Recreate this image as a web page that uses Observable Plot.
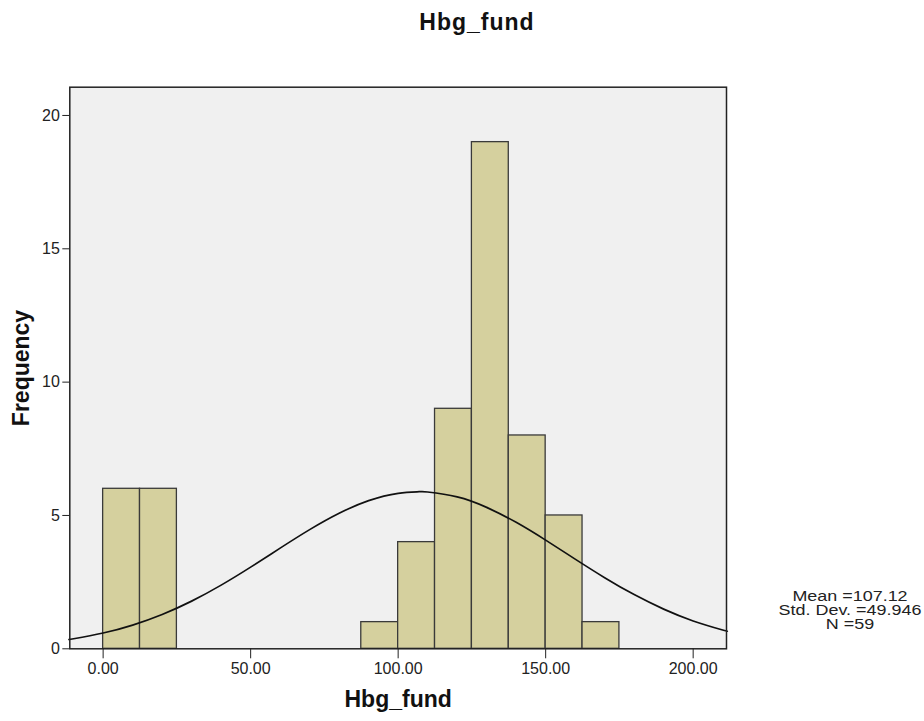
<!DOCTYPE html>
<html>
<head>
<meta charset="utf-8">
<script src="https://cdn.jsdelivr.net/npm/d3@7"></script>
<script src="https://cdn.jsdelivr.net/npm/@observablehq/plot@0.6"></script>
<style>
  html, body { margin: 0; padding: 0; background: #fff; }
  #wrap { position: relative; width: 924px; height: 721px; font-family: "Liberation Sans", Arial, sans-serif; }
  #title { position: absolute; left: 0; width: 954px; top: 11px; text-align: center; font-weight: bold; font-size: 23px; line-height: 23px; color: #111; letter-spacing: 1px; }
  #stats { position: absolute; left: 770px; width: 160px; top: 590px; text-align: center; font-size: 13.8px; line-height: 14px; color: #222; transform: scaleX(1.3); transform-origin: 80px 0; }
  #stats div { height: 14px; }
  #chart svg { position: absolute; left: 0; top: 0; }
  #chart svg g[aria-label="x-axis label"] text,
  #chart svg g[aria-label="y-axis label"] text { font-weight: bold; font-size: 23px; fill: #111; }
  #chart svg g[aria-label="x-axis tick label"] text,
  #chart svg g[aria-label="y-axis tick label"] text { font-size: 16px; fill: #222; }
</style>
</head>
<body>
<div id="wrap">
  <div id="chart"></div>
  <div id="title">Hbg_fund</div>
  <div id="stats"><div>Mean =107.12</div><div>Std. Dev. =49.946</div><div>N =59</div></div>
</div>
<script>
// Histogram bins (lower and upper edges) and their frequencies
const binLo = [0, 12.5, 87.5, 100, 112.5, 125, 137.5, 150, 162.5];
const binHi = [12.5, 25, 100, 112.5, 125, 137.5, 150, 162.5, 175];
const counts = [6, 6, 1, 4, 9, 19, 8, 5, 1];

// Fitted normal curve
const curveX = [-11.3, -10, 0, 10, 20, 30, 40, 50, 60, 70, 80, 90, 100, 107.12, 110, 120, 130, 140, 150, 160, 170, 180, 190, 200, 210, 211.3];
const curveY = [0.354, 0.377, 0.591, 0.889, 1.287, 1.788, 2.388, 3.063, 3.775, 4.469, 5.083, 5.555, 5.831, 5.891, 5.881, 5.698, 5.304, 4.743, 4.075, 3.363, 2.667, 2.032, 1.487, 1.045, 0.706, 0.669];

// Tick values
const xTicks = [0, 50, 100, 150, 200];
const yTicks = [0, 5, 10, 15, 20];

const bins = binLo.map((lo, i) => ({x1: lo, x2: binHi[i], y: counts[i]}));
const curve = curveX.map((x, i) => ({x, y: curveY[i]}));

const chart = Plot.plot({
  width: 924,
  height: 721,
  marginTop: 86.7,
  marginBottom: 72.7,
  marginLeft: 69.3,
  marginRight: 198,
  style: {fontFamily: "'Liberation Sans', Arial, sans-serif", background: "transparent"},
  x: {domain: [-11.3, 211.3]},
  y: {domain: [0, 21.06]},
  marks: [
    Plot.frame({fill: "#f0f0f0", stroke: null}),
    Plot.rectY(bins, {x1: "x1", x2: "x2", y: "y", fill: "#d5d09e", stroke: "#3a3a3a", strokeWidth: 1.3}),
    Plot.line(curve, {x: "x", y: "y", stroke: "#111", strokeWidth: 1.7, curve: "natural"}),
    Plot.frame({stroke: "#222", strokeWidth: 1.5}),
    Plot.axisX({ticks: xTicks, tickFormat: d3.format(".2f"), tickSize: 10, tickPadding: 4, stroke: "#222", label: "Hbg_fund", labelAnchor: "center", labelOffset: 58, labelArrow: false}),
    Plot.axisY({ticks: yTicks, tickSize: 7, tickPadding: 3, stroke: "#222", label: "Frequency", labelAnchor: "center", labelOffset: 57, labelArrow: false})
  ]
});
document.getElementById("chart").appendChild(chart);
</script>
</body>
</html>
